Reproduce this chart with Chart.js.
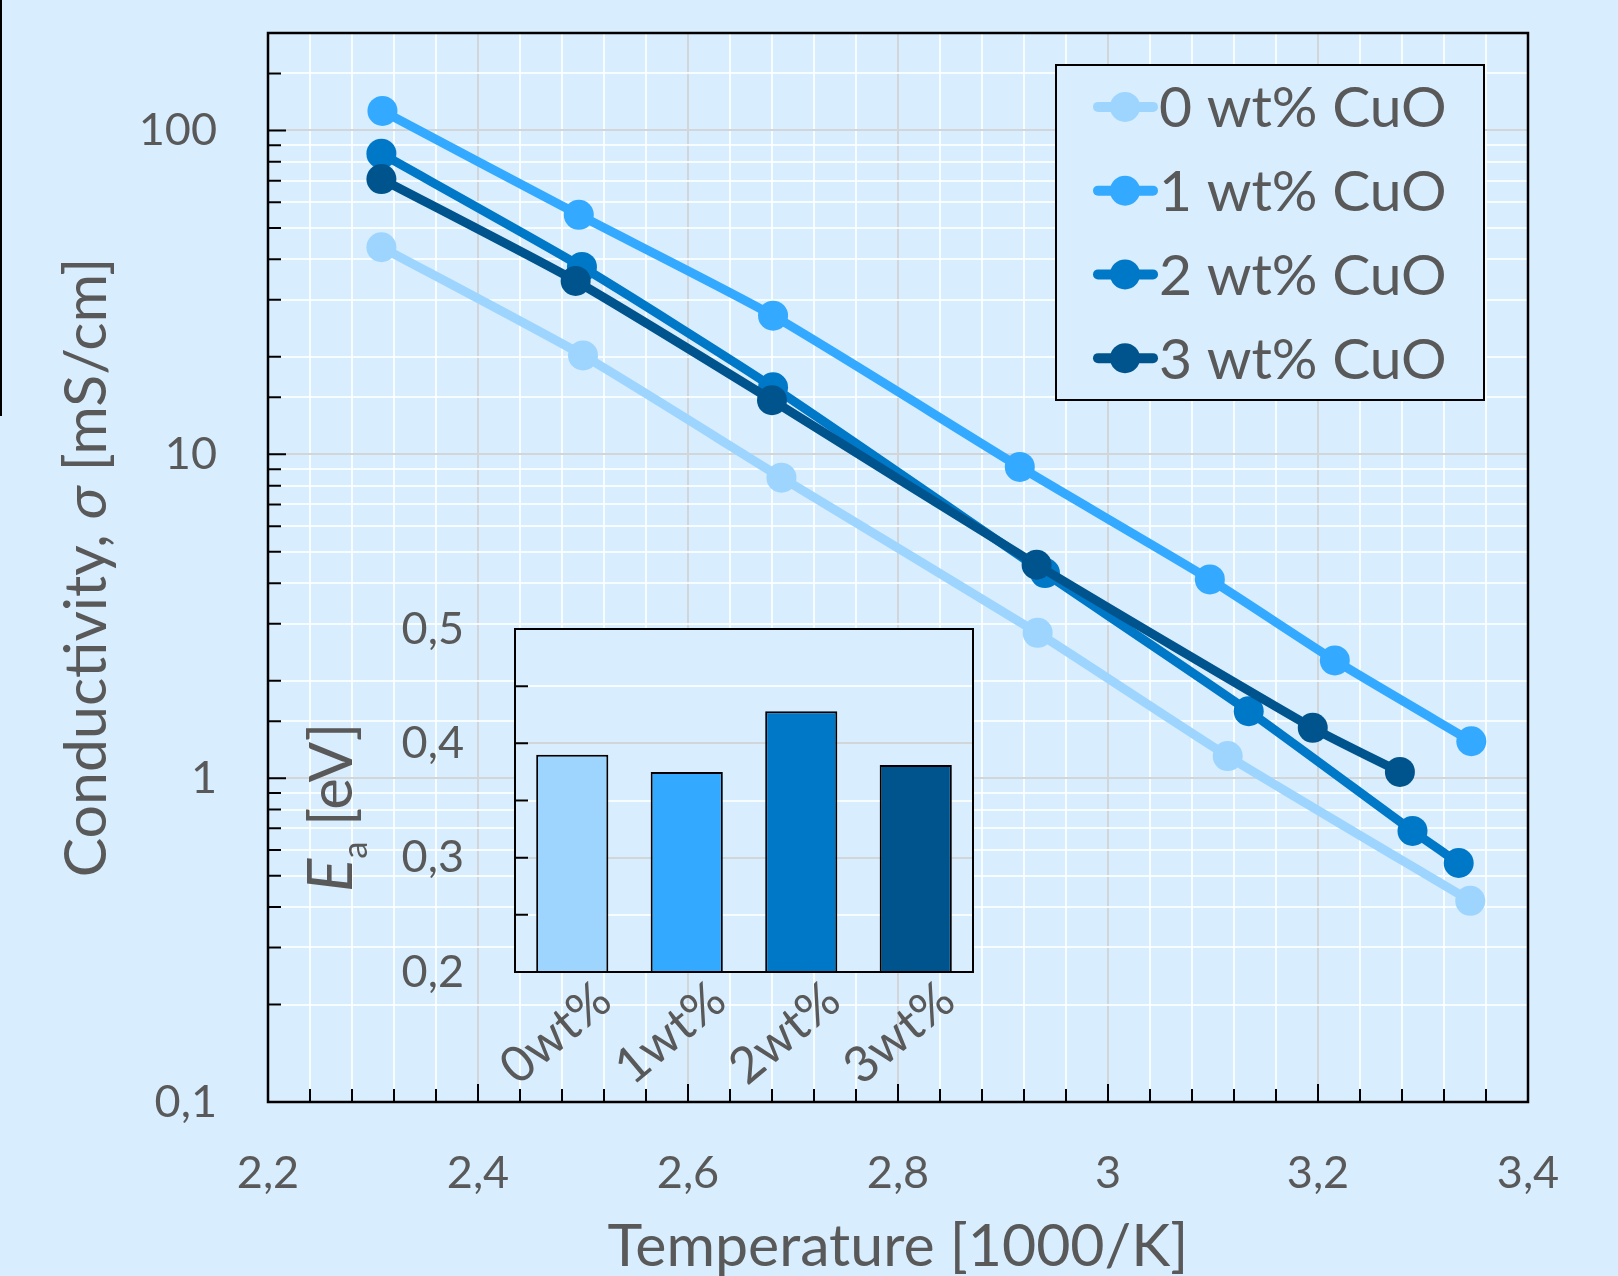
<!DOCTYPE html>
<html>
<head>
<meta charset="utf-8">
<script src="https://cdn.jsdelivr.net/npm/chart.js@4.4.1/dist/chart.umd.min.js"></script>
<style>
  html, body { margin: 0; padding: 0; background: #d8edfd; overflow: hidden; }
  #wrap { position: relative; width: 1618px; height: 1276px; overflow: hidden; }
  #main { position: absolute; left: 0; top: 0; }
  #inset { position: absolute; left: 290px; top: 590px; }
  #edge { position: absolute; left: 0; top: 0; width: 0; height: 416px; border-left: 2px solid #000; }
</style>
</head>
<body>
<div id="wrap">
  <canvas id="main" width="1618" height="1282"></canvas>
  <canvas id="inset" width="700" height="500"></canvas>
  <div id="edge"></div>
</div>
<script>
// ---- data ----
const seriesLabels = ['0 wt% CuO', '1 wt% CuO', '2 wt% CuO', '3 wt% CuO'];
const seriesColors = ['#9dd5ff', '#33aaff', '#0078c8', '#00548e'];

// x = 1000/T [1000/K], y = conductivity [mS/cm]
const x0 = [2.308, 2.500, 2.689, 2.933, 3.114, 3.345];
const y0 = [43.6, 20.2, 8.47, 2.81, 1.17, 0.418];
const x1 = [2.309, 2.496, 2.681, 2.916, 3.097, 3.216, 3.346];
const y1 = [114.9, 54.9, 26.8, 9.14, 4.11, 2.31, 1.30];
const x2 = [2.308, 2.499, 2.681, 2.940, 3.134, 3.290, 3.334];
const y2 = [84.8, 37.9, 16.1, 4.30, 1.61, 0.687, 0.547];
const x3 = [2.308, 2.493, 2.680, 2.932, 3.195, 3.278];
const y3 = [70.8, 34.3, 14.7, 4.56, 1.43, 1.045];

// inset: activation energy
const barCategories = ['0wt%', '1wt%', '2wt%', '3wt%'];
const barValues = [0.390, 0.375, 0.428, 0.381];

// labelled ticks
const xMajorTicks = [2.2, 2.4, 2.6, 2.8, 3, 3.2, 3.4];
const yMajorTicks = [0.1, 1, 10, 100];
const insetMajorTicks = [0.2, 0.3, 0.4, 0.5];

// ---- styling ----
const FONT = 'Lato, "Open Sans", sans-serif';
const TEXT = '#595959';
const BG = '#d8edfd';
const GRID_MAJOR = '#d2d6d9';
const GRID_MINOR = 'rgba(255,255,255,0.8)';

const fmt = v => String(+v.toFixed(3)).replace('.', ',');
const inList = (list, v) => list.some(m => Math.abs(m - v) <= Math.abs(m) * 1e-6 + 1e-9);

// the layout must not grow the plot area for half-label room
const noPad = s => { s.paddingTop = 0; s.paddingBottom = 0; s.paddingLeft = 0; s.paddingRight = 0; };

// inward tick marks + box round the plot area
function makeFrame(opts) {
  return {
    id: 'frame',
    afterDraw(chart) {
      const { ctx, chartArea: a } = chart;
      ctx.save();
      ctx.strokeStyle = '#000';
      ctx.lineWidth = 2;
      ctx.beginPath();
      opts.axes.forEach(id => {
        const scale = chart.scales[id];
        scale.ticks.forEach(t => {
          const p = scale.getPixelForValue(t.value);
          const len = opts.isMajor(id, t.value) ? opts.major : opts.minor;
          if (scale.isHorizontal()) {
            ctx.moveTo(p, a.bottom);
            ctx.lineTo(p, a.bottom - len);
          } else {
            ctx.moveTo(a.left, p);
            ctx.lineTo(a.left + len, p);
          }
        });
      });
      ctx.stroke();
      ctx.lineWidth = opts.boxWidth;
      ctx.strokeRect(a.left, a.top, a.right - a.left, a.bottom - a.top);
      ctx.restore();
    }
  };
}

// draws a rotated title made of several font runs, centred on (cx, cy)
function drawRuns(ctx, runs, cx, cy, baseline) {
  ctx.save();
  ctx.fillStyle = TEXT;
  ctx.textBaseline = baseline;
  let total = 0;
  runs.forEach(r => { ctx.font = r.font; r.w = ctx.measureText(r.text).width; total += r.w; });
  ctx.translate(cx, cy);
  ctx.rotate(-Math.PI / 2);
  let x = -total / 2;
  runs.forEach(r => {
    ctx.font = r.font;
    ctx.fillText(r.text, x, r.dy || 0);
    x += r.w;
  });
  ctx.restore();
}

const mainTitle = {
  id: 'mainTitle',
  afterDraw(chart) {
    const a = chart.chartArea;
    drawRuns(chart.ctx, [
      { text: 'Conductivity, ', font: '59px ' + FONT },
      { text: 'σ', font: 'italic 59px ' + FONT },
      { text: ' [mS/cm]', font: '59px ' + FONT }
    ], 87, (a.top + a.bottom) / 2, 'middle');
  }
};

// legend drawn inside the plot, line + marker like the original
const boxLegend = {
  id: 'boxLegend',
  afterDraw(chart) {
    const ctx = chart.ctx;
    const L = 1056, T = 65, R = 1484, B = 400;
    ctx.save();
    ctx.fillStyle = BG;
    ctx.fillRect(L, T, R - L, B - T);
    ctx.strokeStyle = '#000';
    ctx.lineWidth = 2;
    ctx.strokeRect(L, T, R - L, B - T);
    const rowH = (B - T) / chart.data.datasets.length;
    chart.data.datasets.forEach((ds, i) => {
      const y = T + rowH * (i + 0.5);
      ctx.strokeStyle = ds.borderColor;
      ctx.lineWidth = 10;
      ctx.lineCap = 'round';
      ctx.beginPath();
      ctx.moveTo(1098, y);
      ctx.lineTo(1153, y);
      ctx.stroke();
      ctx.fillStyle = ds.borderColor;
      ctx.beginPath();
      ctx.arc(1125, y, 15, 0, Math.PI * 2);
      ctx.fill();
      ctx.fillStyle = TEXT;
      ctx.font = '57px ' + FONT;
      ctx.textBaseline = 'middle';
      ctx.fillText(ds.label, 1159, y + 2);
    });
    ctx.restore();
  }
};

const xs = [x0, x1, x2, x3];
const ys = [y0, y1, y2, y3];
const datasets = seriesLabels.map((label, i) => ({
  label: label,
  data: xs[i].map((x, j) => ({ x: x, y: ys[i][j] })),
  borderColor: seriesColors[i],
  backgroundColor: seriesColors[i],
  pointBackgroundColor: seriesColors[i],
  borderWidth: 9,
  pointRadius: 15,
  pointHoverRadius: 15,
  pointBorderWidth: 0,
  tension: 0.2,
  order: seriesLabels.length - i
}));

new Chart(document.getElementById('main'), {
  type: 'line',
  data: { datasets: datasets },
  options: {
    responsive: false,
    animation: false,
    layout: { padding: { left: 0, top: 33, right: 90, bottom: 0 } },
    plugins: { legend: { display: false }, tooltip: { enabled: false } },
    scales: {
      x: {
        type: 'linear',
        min: 2.2,
        max: 3.4,
        afterFit: s => { noPad(s); s.height = 180; },
        ticks: {
          stepSize: 0.04,
          autoSkip: false,
          maxRotation: 0,
          padding: 44,
          color: TEXT,
          font: { family: FONT, size: 45 },
          callback: v => inList(xMajorTicks, v) ? fmt(v) : ''
        },
        grid: {
          drawTicks: false,
          lineWidth: 2,
          color: c => c.tick && inList(xMajorTicks, c.tick.value) ? GRID_MAJOR : GRID_MINOR
        },
        border: { display: false },
        title: {
          display: true,
          text: 'Temperature [1000/K]',
          color: TEXT,
          font: { family: FONT, size: 59 },
          padding: { top: 0, bottom: 0 }
        }
      },
      y: {
        type: 'logarithmic',
        min: 0.1,
        max: 200,
        afterFit: s => { noPad(s); s.width = 268; },
        ticks: {
          autoSkip: false,
          padding: 51,
          color: TEXT,
          font: { family: FONT, size: 45 },
          callback: v => inList(yMajorTicks, v) ? fmt(v) : ''
        },
        grid: {
          drawTicks: false,
          lineWidth: 2,
          color: c => c.tick && inList(yMajorTicks, c.tick.value) ? GRID_MAJOR : GRID_MINOR
        },
        border: { display: false }
      }
    }
  },
  plugins: [
    makeFrame({
      axes: ['x', 'y'],
      major: 18,
      minor: 13,
      boxWidth: 2.5,
      isMajor: (id, v) => inList(id === 'x' ? xMajorTicks : yMajorTicks, v)
    }),
    mainTitle,
    boxLegend
  ]
});

// ---- inset bar chart ----
const insetBackground = {
  id: 'insetBackground',
  beforeDraw(chart) {
    const { ctx, chartArea: a } = chart;
    ctx.save();
    ctx.fillStyle = BG;
    ctx.fillRect(a.left, a.top, a.right - a.left, a.bottom - a.top);
    ctx.restore();
  }
};

// y title with italic E and subscript a
const insetTitle = {
  id: 'insetTitle',
  afterDraw(chart) {
    const a = chart.chartArea;
    drawRuns(chart.ctx, [
      { text: 'E', font: 'italic 62px ' + FONT },
      { text: 'a', font: '35px ' + FONT, dy: 15 },
      { text: ' [eV]', font: '60px ' + FONT }
    ], 62, (a.top + a.bottom) / 2 + 7, 'alphabetic');
  }
};

new Chart(document.getElementById('inset'), {
  type: 'bar',
  data: {
    labels: barCategories,
    datasets: [{
      data: barValues,
      backgroundColor: seriesColors,
      borderColor: '#000',
      borderWidth: 2,
      borderSkipped: false,
      barPercentage: 0.63,
      categoryPercentage: 1
    }]
  },
  options: {
    responsive: false,
    animation: false,
    layout: { padding: { left: 0, top: 39, right: 17, bottom: 0 } },
    plugins: { legend: { display: false }, tooltip: { enabled: false } },
    scales: {
      x: {
        afterFit: s => { noPad(s); s.height = 118; },
        grid: { display: false },
        border: { display: false },
        ticks: {
          minRotation: 40,
          maxRotation: 40,
          padding: -10,
          labelOffset: 32,
          color: TEXT,
          font: { family: FONT, size: 50 }
        }
      },
      y: {
        min: 0.2,
        max: 0.5,
        afterFit: s => { noPad(s); s.width = 225; },
        ticks: {
          stepSize: 0.05,
          autoSkip: false,
          padding: 51,
          color: TEXT,
          font: { family: FONT, size: 45 },
          callback: v => inList(insetMajorTicks, v) ? fmt(v) : ''
        },
        grid: {
          drawTicks: false,
          lineWidth: 2,
          color: c => c.tick && inList(insetMajorTicks, c.tick.value) ? GRID_MAJOR : GRID_MINOR
        },
        border: { display: false }
      }
    }
  },
  plugins: [
    insetBackground,
    makeFrame({
      axes: ['y'],
      major: 13,
      minor: 13,
      boxWidth: 2,
      isMajor: () => true
    }),
    insetTitle
  ]
});
</script>
</body>
</html>
